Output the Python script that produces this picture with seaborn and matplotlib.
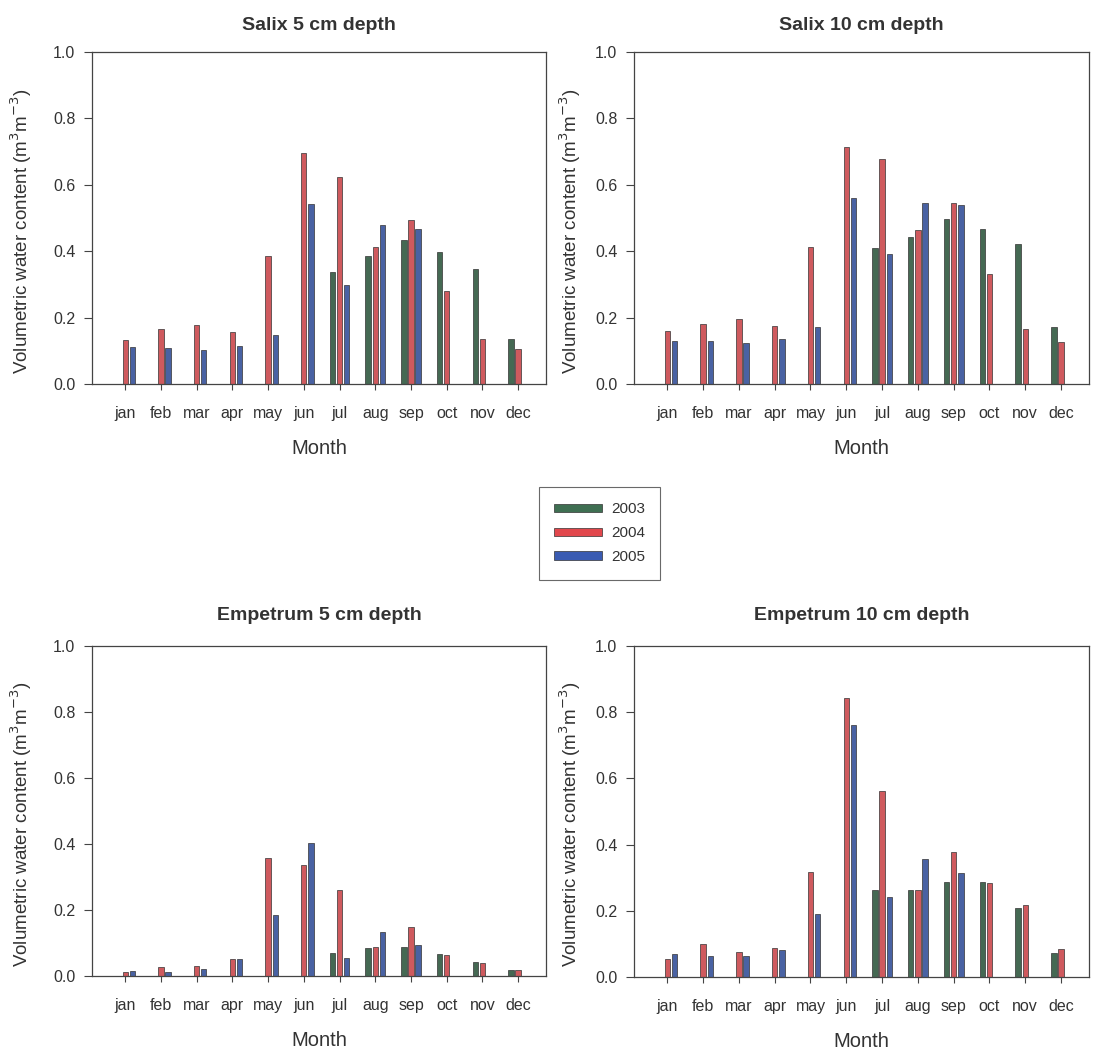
import matplotlib
matplotlib.use("Agg")
import matplotlib.pyplot as plt
from matplotlib.patches import Patch
import seaborn as sns
import numpy as np
import pandas as pd

# --- data ---
months = ["jan", "feb", "mar", "apr", "may", "jun", "jul", "aug", "sep", "oct", "nov", "dec"]
years = ["2003", "2004", "2005"]
nan = np.nan

salix5_2003 = [nan, nan, nan, nan, nan, nan, 0.336, 0.386, 0.434, 0.399, 0.345, 0.137]
salix5_2004 = [0.133, 0.165, 0.177, 0.158, 0.386, 0.697, 0.624, 0.414, 0.494, 0.280, 0.136, 0.104]
salix5_2005 = [0.110, 0.107, 0.102, 0.114, 0.148, 0.542, 0.297, 0.480, 0.466, nan, nan, nan]

salix10_2003 = [nan, nan, nan, nan, nan, nan, 0.409, 0.444, 0.496, 0.467, 0.422, 0.173]
salix10_2004 = [0.161, 0.180, 0.195, 0.175, 0.414, 0.714, 0.677, 0.464, 0.545, 0.331, 0.167, 0.127]
salix10_2005 = [0.129, 0.129, 0.123, 0.137, 0.172, 0.560, 0.392, 0.545, 0.538, nan, nan, nan]

emp5_2003 = [nan, nan, nan, nan, nan, nan, 0.070, 0.086, 0.089, 0.067, 0.041, 0.018]
emp5_2004 = [0.012, 0.027, 0.031, 0.053, 0.357, 0.336, 0.260, 0.087, 0.150, 0.064, 0.039, 0.018]
emp5_2005 = [0.014, 0.013, 0.021, 0.053, 0.186, 0.404, 0.055, 0.132, 0.093, nan, nan, nan]

emp10_2003 = [nan, nan, nan, nan, nan, nan, 0.262, 0.264, 0.286, 0.286, 0.208, 0.071]
emp10_2004 = [0.054, 0.100, 0.076, 0.087, 0.317, 0.842, 0.561, 0.264, 0.378, 0.284, 0.218, 0.085]
emp10_2005 = [0.069, 0.062, 0.062, 0.083, 0.190, 0.760, 0.241, 0.357, 0.314, nan, nan, nan]

panels = [
    ("Salix 5 cm depth", [salix5_2003, salix5_2004, salix5_2005]),
    ("Salix 10 cm depth", [salix10_2003, salix10_2004, salix10_2005]),
    ("Empetrum 5 cm depth", [emp5_2003, emp5_2004, emp5_2005]),
    ("Empetrum 10 cm depth", [emp10_2003, emp10_2004, emp10_2005]),
]

colors = {"2003": "#3f6f52", "2004": "#e2474c", "2005": "#3a5bb2"}
TXT = "#333333"

sns.set_style("white")
plt.rcParams['font.family'] = ['Liberation Sans', 'DejaVu Sans']
plt.rcParams['text.color'] = TXT
plt.rcParams['axes.labelcolor'] = TXT
plt.rcParams['xtick.color'] = TXT
plt.rcParams['ytick.color'] = TXT
plt.rcParams['axes.edgecolor'] = "#444444"
plt.rcParams['xtick.bottom'] = True
plt.rcParams['ytick.left'] = True

W, H = 1098, 1054
fig = plt.figure(figsize=(W / 100, H / 100), dpi=100)

# axes boxes in pixels: left, right, top, bottom
boxes = [(92, 546, 52, 384), (634, 1089, 52, 384),
         (92, 546, 646, 976), (634, 1089, 646, 977)]

for i, ((title, series), (l, r, t, b)) in enumerate(zip(panels, boxes)):
    ax = fig.add_axes([l / W, 1 - b / H, (r - l) / W, (b - t) / H])
    df = pd.DataFrame({
        "month": months * 3,
        "year": np.repeat(years, 12),
        "value": np.concatenate(series),
    })
    sns.barplot(data=df, x="month", y="value", hue="year", order=months,
                hue_order=years, palette=colors, width=0.6, gap=0.25,
                errorbar=None, edgecolor="#333333", linewidth=0.5,
                legend=False, ax=ax)
    ax.set_xlim(-0.93, 11.78)
    ax.set_ylim(0, 1.0)
    ax.set_yticks([0, 0.2, 0.4, 0.6, 0.8, 1.0])
    ax.set_yticklabels(["0.0", "0.2", "0.4", "0.6", "0.8", "1.0"])
    ax.tick_params(axis="y", direction="out", left=True, length=6, width=0.8,
                   pad=6, labelsize=11.5, color="#444444")
    ax.tick_params(axis="x", direction="out", bottom=True, length=4, width=0.8,
                   pad=12, labelsize=11.5, color="#444444")
    for s in ax.spines.values():
        s.set_linewidth(0.9)
    ax.set_xlabel("Month", fontsize=14.5, labelpad=13)
    ax.set_ylabel("Volumetric water content (m$^3$m$^{\\mathsf{-3}}$)", fontsize=13.5)
    ax.yaxis.set_label_coords(-0.128 if i % 2 == 0 else -0.112, 0.46)
    ax.set_title(title, fontsize=14, fontweight="bold", pad=16 if i < 2 else 19)

handles = [Patch(facecolor=colors[y], edgecolor="#333333", linewidth=0.5, label=y) for y in years]
leg = fig.legend(handles=handles, loc="center", bbox_to_anchor=(0.546, 0.494),
                 fontsize=11, frameon=True, fancybox=False, handlelength=3.1,
                 handleheight=0.5, labelspacing=0.65, borderpad=1.0, handletextpad=0.6)
leg.get_frame().set_edgecolor("#444444")
leg.get_frame().set_linewidth(0.8)

fig.savefig("out.png", dpi=100)
